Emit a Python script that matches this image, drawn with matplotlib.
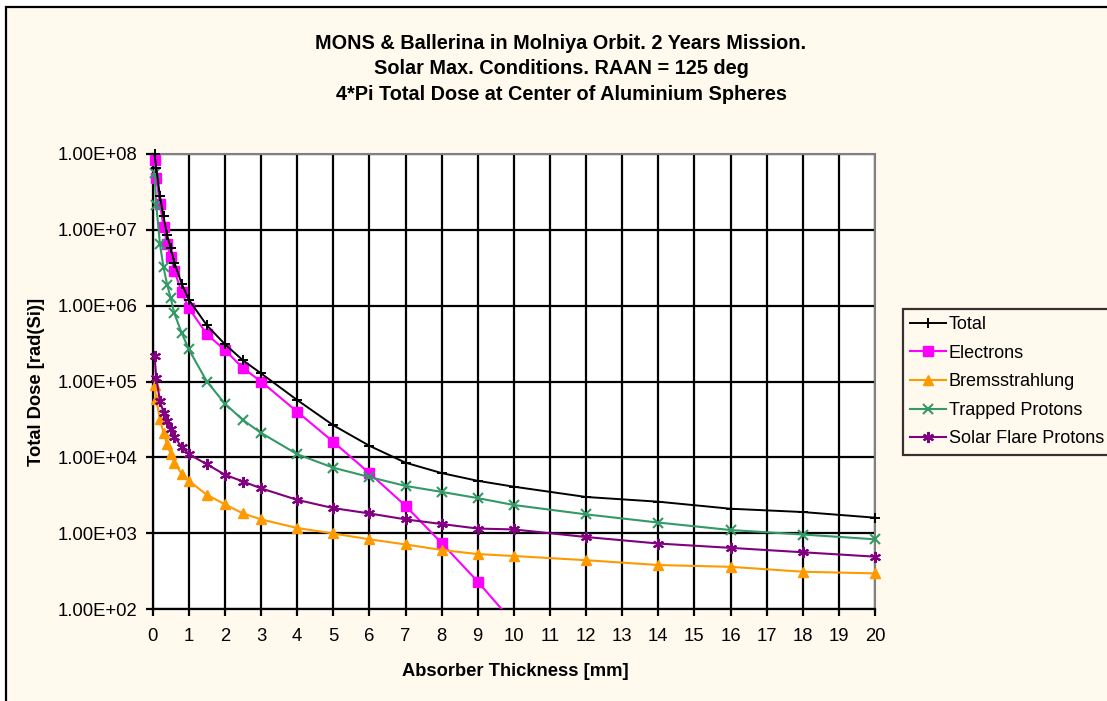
import matplotlib.pyplot as plt
from matplotlib.patches import Rectangle
from matplotlib.ticker import FixedLocator, FuncFormatter, NullLocator

plt.rcParams['font.family'] = ['Liberation Sans', 'DejaVu Sans']

# absorber thickness grid [mm]
thickness = [0.05, 0.1, 0.2, 0.3, 0.4, 0.5, 0.6, 0.8, 1.0, 1.5, 2.0, 2.5, 3.0,
             4.0, 5.0, 6.0, 7.0, 8.0, 9.0, 10.0, 12.0, 14.0, 16.0, 18.0, 20.0]

total = [1.0e8, 6.5e7, 2.8e7, 1.5e7, 8.5e6, 5.7e6, 3.7e6, 1.96e6, 1.2e6, 5.5e5,
         3.1e5, 1.9e5, 1.28e5, 5.7e4, 2.65e4, 1.42e4, 8.5e3, 6.2e3, 4.9e3,
         4.1e3, 3.0e3, 2.6e3, 2.1e3, 1.9e3, 1.6e3]

electrons_x = thickness[:20]
electrons = [8.3e7, 4.8e7, 2.2e7, 1.1e7, 6.5e6, 4.4e6, 2.9e6, 1.5e6, 9.3e5, 4.2e5,
             2.6e5, 1.5e5, 1.0e5, 4.0e4, 1.6e4, 6.2e3, 2.3e3, 7.4e2, 2.3e2, 65]

brems = [8.9e4, 5.8e4, 3.2e4, 2.1e4, 1.48e4, 1.1e4, 8.5e3, 6.1e3, 4.9e3, 3.2e3,
         2.4e3, 1.82e3, 1.52e3, 1.17e3, 9.9e2, 8.3e2, 7.1e2, 6.0e2, 5.3e2,
         5.0e2, 4.4e2, 3.8e2, 3.6e2, 3.1e2, 2.95e2]

trapped = [5.6e7, 2.1e7, 6.5e6, 3.2e6, 1.9e6, 1.25e6, 7.9e5, 4.4e5, 2.65e5, 1.0e5,
           5.1e4, 3.1e4, 2.1e4, 1.1e4, 7.3e3, 5.5e3, 4.2e3, 3.5e3, 2.9e3,
           2.35e3, 1.77e3, 1.38e3, 1.1e3, 9.6e2, 8.3e2]

solar = [2.2e5, 1.1e5, 5.6e4, 3.9e4, 3.0e4, 2.4e4, 1.86e4, 1.38e4, 1.1e4, 8.1e3,
         5.9e3, 4.8e3, 3.9e3, 2.75e3, 2.14e3, 1.82e3, 1.52e3, 1.32e3, 1.15e3,
         1.12e3, 8.9e2, 7.3e2, 6.4e2, 5.6e2, 4.9e2]

title = ("MONS & Ballerina in Molniya Orbit. 2 Years Mission.\n"
         "Solar Max. Conditions. RAAN = 125 deg\n"
         "4*Pi Total Dose at Center of Aluminium Spheres")

YMIN, YMAX = 1e2, 1e8

W, H = 1107, 701
fig = plt.figure(figsize=(W / 100, H / 100), dpi=100, facecolor='white')

# chart area background with black border
fig.patches.append(Rectangle((6 / W, -0.05), 1.1, 1 - 7 / H + 0.05,
                             transform=fig.transFigure, facecolor='#FFF9EE',
                             edgecolor='black', linewidth=1.6, zorder=-10))

ax = fig.add_axes([152.7 / W, 1 - 609 / H, (875 - 152.7) / W, (609 - 154) / H])
ax.set_facecolor('white')

ax.plot(thickness, total, color='black', lw=1.4, marker='+', ms=7, mew=1.4,
        label='Total', zorder=5, clip_on=False)
# electrons: line clipped at the axis floor, markers only for visible points
ax.plot(electrons_x, electrons, color='#FF00FF', lw=1.5, zorder=4)
vis = [(x, v) for x, v in zip(electrons_x, electrons) if v >= YMIN]
ax.plot([p[0] for p in vis], [p[1] for p in vis], ls='none', color='#FF00FF',
        marker='s', ms=7.5, zorder=4, clip_on=False)
ax.plot([], [], color='#FF00FF', lw=1.5, marker='s', ms=7.5, label='Electrons')
ax.plot(thickness, brems, color='#FF9900', lw=1.5, marker='^', ms=7.5,
        label='Bremsstrahlung', zorder=4, clip_on=False)
ax.plot(thickness, trapped, color='#339966', lw=1.5, marker='x', ms=6.5, mew=1.5,
        label='Trapped Protons', zorder=4, clip_on=False)
ax.plot(thickness, solar, color='#800080', lw=1.5, marker=(6, 2, 0), ms=8, mew=1.5,
        label='Solar Flare Protons', zorder=4, clip_on=False)

ax.set_yscale('log')
ax.set_xlim(0, 20)
ax.set_ylim(YMIN, YMAX)
ax.xaxis.set_major_locator(FixedLocator(range(0, 21)))
ax.yaxis.set_major_locator(FixedLocator([1e2, 1e3, 1e4, 1e5, 1e6, 1e7, 1e8]))
ax.yaxis.set_minor_locator(NullLocator())
ax.yaxis.set_major_formatter(FuncFormatter(
    lambda v, p: '{:.2E}'.format(v)))

ax.grid(True, color='black', lw=1.6)
ax.set_axisbelow(True)
ax.tick_params(axis='both', direction='out', length=5, width=1.6,
               labelsize=13.3, colors='black', pad=6)
ax.tick_params(axis='x', pad=9)

for side in ['top', 'right']:
    ax.spines[side].set_color('#808080')
    ax.spines[side].set_linewidth(1.5)
for side in ['left', 'bottom']:
    ax.spines[side].set_color('black')
    ax.spines[side].set_linewidth(1.6)

fig.text(561 / W, 1 - 69 / H, title, ha='center', va='center',
         fontsize=14.3, fontweight='bold', linespacing=1.45)
fig.text(515 / W, 1 - 672 / H, 'Absorber Thickness [mm]', ha='center',
         va='center', fontsize=13.2, fontweight='bold')
fig.text(37 / W, 1 - 382 / H, 'Total Dose [rad(Si)]', ha='center',
         va='center', rotation=90, fontsize=13.2, fontweight='bold')

leg = fig.legend(loc='upper left', bbox_to_anchor=(902.7 / W, 1 - 309 / H),
                 fontsize=13, frameon=True, fancybox=False,
                 handlelength=2.0, handletextpad=0.15, labelspacing=0.64,
                 borderpad=0.4, borderaxespad=0)
leg.get_frame().set_edgecolor('black')
leg.get_frame().set_linewidth(1.6)
leg.get_frame().set_facecolor('#FFF9EE')

fig.savefig('out.png', dpi=100, facecolor='white')
